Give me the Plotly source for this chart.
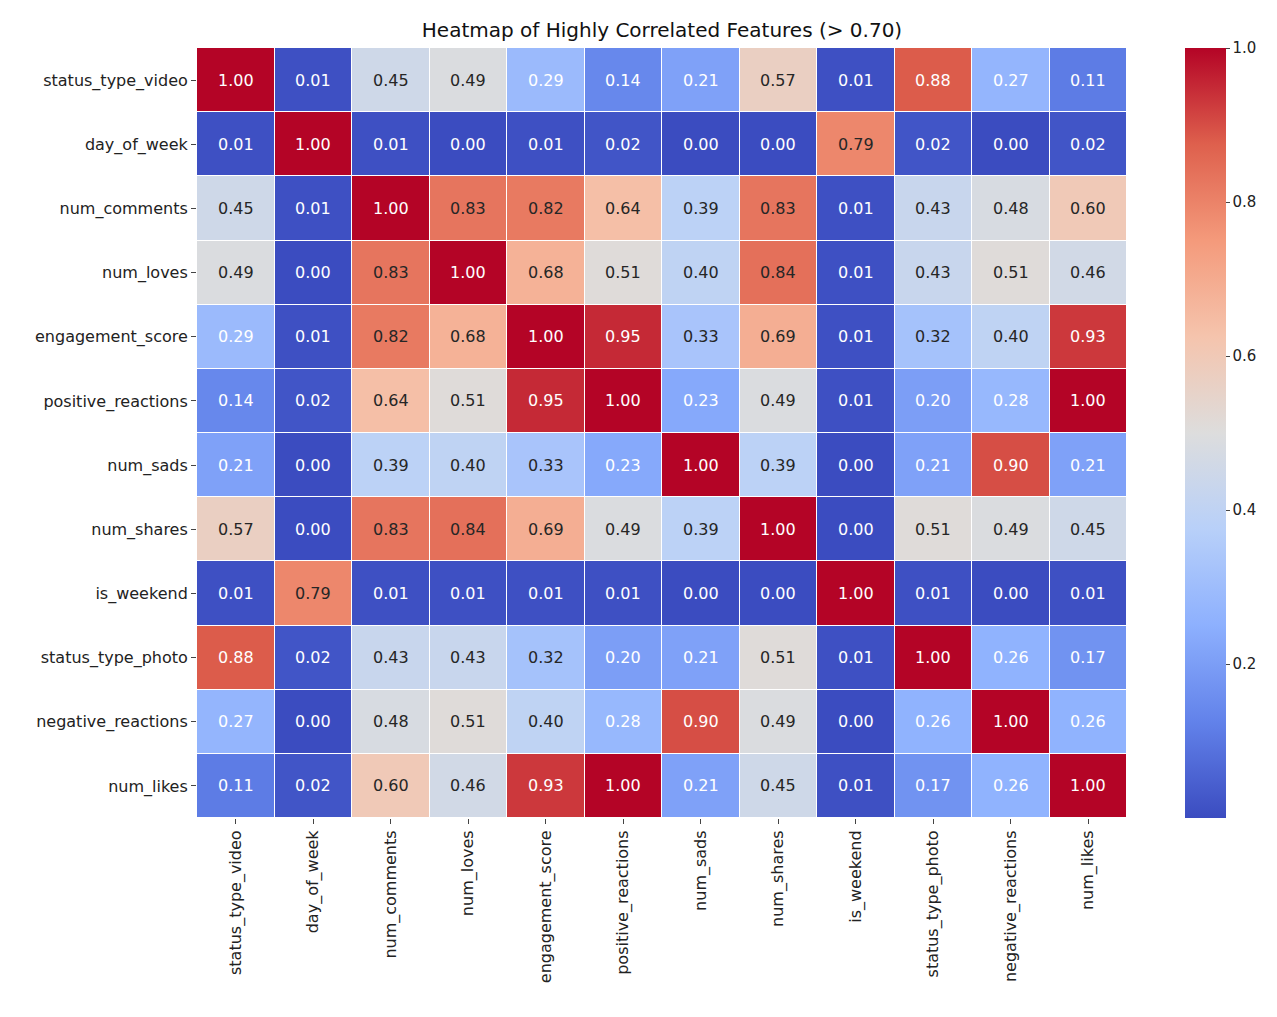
import plotly.graph_objects as go

labels = ["status_type_video","day_of_week","num_comments","num_loves","engagement_score",
          "positive_reactions","num_sads","num_shares","is_weekend","status_type_photo",
          "negative_reactions","num_likes"]
values = [
 [1.00,0.01,0.45,0.49,0.29,0.14,0.21,0.57,0.01,0.88,0.27,0.11],
 [0.01,1.00,0.01,0.00,0.01,0.02,0.00,0.00,0.79,0.02,0.00,0.02],
 [0.45,0.01,1.00,0.83,0.82,0.64,0.39,0.83,0.01,0.43,0.48,0.60],
 [0.49,0.00,0.83,1.00,0.68,0.51,0.40,0.84,0.01,0.43,0.51,0.46],
 [0.29,0.01,0.82,0.68,1.00,0.95,0.33,0.69,0.01,0.32,0.40,0.93],
 [0.14,0.02,0.64,0.51,0.95,1.00,0.23,0.49,0.01,0.20,0.28,1.00],
 [0.21,0.00,0.39,0.40,0.33,0.23,1.00,0.39,0.00,0.21,0.90,0.21],
 [0.57,0.00,0.83,0.84,0.69,0.49,0.39,1.00,0.00,0.51,0.49,0.45],
 [0.01,0.79,0.01,0.01,0.01,0.01,0.00,0.00,1.00,0.01,0.00,0.01],
 [0.88,0.02,0.43,0.43,0.32,0.20,0.21,0.51,0.01,1.00,0.26,0.17],
 [0.27,0.00,0.48,0.51,0.40,0.28,0.90,0.49,0.00,0.26,1.00,0.26],
 [0.11,0.02,0.60,0.46,0.93,1.00,0.21,0.45,0.01,0.17,0.26,1.00],
]

coolwarm = [[0.0,"rgb(59,76,192)"],[0.125,"rgb(98,130,234)"],[0.25,"rgb(141,176,254)"],
            [0.375,"rgb(184,208,249)"],[0.5,"rgb(221,221,221)"],[0.625,"rgb(245,196,173)"],
            [0.75,"rgb(244,154,123)"],[0.875,"rgb(222,96,77)"],[1.0,"rgb(180,4,38)"]]

fig = go.Figure(go.Heatmap(
    z=values, x=labels, y=labels, zmin=0, zmax=1, colorscale=coolwarm,
    xgap=1, ygap=1,
    colorbar=dict(x=(1185-197)/930, xanchor="left", xpad=0, ypad=0, thickness=41, len=1, lenmode="fraction",
                  y=0.5, yanchor="middle", outlinewidth=0,
                  tickvals=[0.2,0.4,0.6,0.8,1.0], ticktext=["0.2","0.4","0.6","0.8","1.0"],
                  ticks="outside", ticklen=4, tickfont=dict(size=15, color="#222")),
    hoverinfo="skip"))

for i, row in enumerate(values):
    for j, v in enumerate(row):
        col = "white" if (v < 0.3 or v > 0.85) else "#262626"
        fig.add_annotation(x=labels[j], y=labels[i], text=f"{v:.2f}", showarrow=False,
                           font=dict(size=16, color=col, family="DejaVu Sans"))

W, H = 1261, 1001
fig.update_layout(
    width=W, height=H, paper_bgcolor="white", plot_bgcolor="white",
    margin=dict(l=189, r=142, t=40, b=191, autoexpand=False),
    font=dict(family="DejaVu Sans", color="#222"),
    title=dict(text="Heatmap of Highly Correlated Features (> 0.70)", x=(189+1119)/2/W,
               xanchor="center", y=1-22/H, yanchor="middle", font=dict(size=20, color="#111")),
    xaxis=dict(tickangle=-90, tickfont=dict(size=16), ticks="outside", ticklen=5, showgrid=False),
    yaxis=dict(autorange="reversed", tickfont=dict(size=16), ticks="outside", ticklen=5, showgrid=False),
)
fig.write_html("out.html")
